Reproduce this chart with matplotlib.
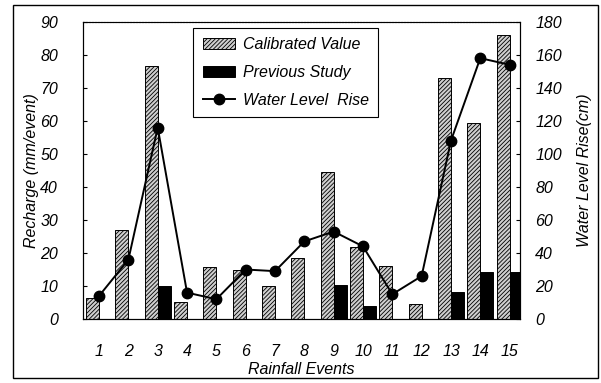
import numpy as np
import matplotlib
matplotlib.use("Agg")
import matplotlib.pyplot as plt
from matplotlib.patches import Rectangle

plt.rcParams['font.family'] = ['Liberation Sans', 'DejaVu Sans']
plt.rcParams['font.style'] = 'italic'
plt.rcParams['hatch.linewidth'] = 0.6
plt.rcParams['hatch.color'] = '#555555'

#%% Data
events = np.arange(1, 16)
calibrated = [6.5, 27, 76.5, 5.2, 15.7, 14.8, 9.9, 18.5, 44.6, 21.7, 16, 4.6, 73.1, 59.4, 85.9]
previous = [0, 0, 10, 0, 0, 0, 0, 0, 10.2, 4, 0, 0, 8.3, 14.3, 14.3]
water_rise = [14, 36, 116, 16, 12, 30, 29, 47, 53, 44, 15, 26, 108, 158, 154]

#%% Plot
fig = plt.figure(figsize=(6.01, 3.83), dpi=100)
ax = fig.add_axes([0.138, 0.167, 0.727, 0.776])
ax2 = ax.twinx()

w = 0.44
ax.bar(events - w/2, calibrated, width=w, color='#cfcfcf', edgecolor='black',
       hatch='////////', linewidth=0.7, label='Calibrated Value')
ax.bar(events + w/2, previous, width=w, color='black', edgecolor='black',
       linewidth=0.7, label='Previous Study')
ax2.plot(events, water_rise, '-o', color='black', markersize=7.5, linewidth=1.4,
         label='Water Level  Rise')

ax.set_xlim(0.45, 15.35)
ax.set_ylim(0, 90)
ax2.set_ylim(0, 180)
ax.set_yticks(np.arange(0, 91, 10))
ax2.set_yticks(np.arange(0, 181, 20))
ax.set_xticks(events)

ax.tick_params(axis='y', direction='in', length=3, pad=18, labelsize=11.5)
ax.tick_params(axis='x', length=0, pad=18, labelsize=11.5)
ax2.tick_params(axis='y', direction='in', length=3, pad=11, labelsize=11.5)

for a in (ax, ax2):
    for s in a.spines.values():
        s.set_linewidth(0.8)
ax.spines['top'].set_linestyle(':')

ax.set_xlabel('Rainfall Events', fontsize=11.5, labelpad=2)
ax.set_ylabel('Recharge (mm/event)', fontsize=11.5, labelpad=1)
ax2.set_ylabel('Water Level Rise(cm)', fontsize=11.5, labelpad=11)

handles = [ax.containers[0].patches[0], ax.containers[1].patches[2], ax2.lines[0]]
labels = ['Calibrated Value', 'Previous Study', 'Water Level  Rise']
leg = ax2.legend(handles, labels, loc='upper left', bbox_to_anchor=(0.252, 0.98),
                 borderaxespad=0, fancybox=False, framealpha=1, edgecolor='black',
                 fontsize=11.5, handlelength=2.0, labelspacing=0.8, borderpad=0.6,
                 handletextpad=0.5)
leg.get_frame().set_linewidth(0.8)

# outer frame
fig.patches.append(Rectangle((13/601, 5/383), 585/601, 373/383, transform=fig.transFigure,
                             fill=False, edgecolor='black', linewidth=1.0))

fig.savefig('out.png', dpi=100)
